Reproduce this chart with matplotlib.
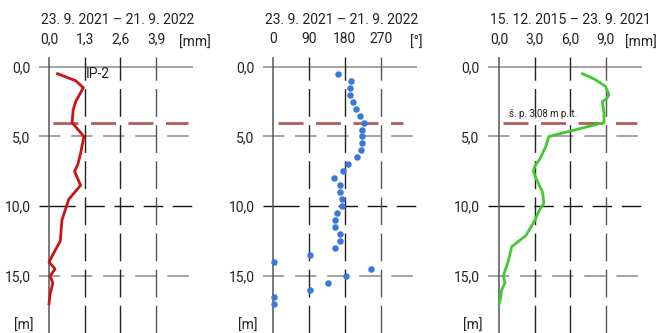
import matplotlib
matplotlib.use("Agg")
import matplotlib.pyplot as plt

plt.rcParams['font.family'] = ['Roboto', 'DejaVu Sans']

# ---------------- data ----------------
depth_ticks = [0.0, 5.0, 10.0, 15.0]
depth_ticklabels = ["0,0", "5,0", "10,0", "15,0"]
water_level = 4.0
water_label = "š. p. 3,08 m p. t."

title1 = "23. 9. 2021 – 21. 9. 2022"
title2 = "23. 9. 2021 – 21. 9. 2022"
title3 = "15. 12. 2015 – 23. 9. 2021"

x1_ticks = [0.0, 1.3, 2.6, 3.9]
x1_labels = ["0,0", "1,3", "2,6", "3,9"]
x2_ticks = [0, 90, 180, 270]
x2_labels = ["0", "90", "180", "270"]
x3_ticks = [0.0, 3.0, 6.0, 9.0]
x3_labels = ["0,0", "3,0", "6,0", "9,0"]

# panel 1: displacement (mm) IP-2
d1 = [0.5, 1.0, 1.5, 2.5, 3.1, 4.0, 5.0, 6.2, 7.0, 7.5, 8.5, 9.5, 11.0, 12.5,
      13.4, 14.0, 14.5, 15.0, 15.5, 16.3, 17.0]
v1 = [0.31, 0.97, 1.25, 0.97, 0.88, 0.84, 1.27, 1.15, 1.05, 0.93, 1.15, 0.72,
      0.47, 0.41, 0.16, 0.0, 0.22, 0.04, 0.14, 0.04, 0.0]

# panel 2: direction (deg)
d2 = [0.5, 1.0, 1.5, 2.0, 2.5, 3.0, 3.5, 4.0, 4.5, 5.0, 5.5, 6.0, 6.5, 7.0,
      7.5, 8.0, 8.5, 9.0, 9.5, 10.0, 10.5, 11.0, 11.5, 12.0, 12.5, 13.0, 13.5,
      14.0, 14.5, 15.0, 15.5, 16.0, 16.5, 17.0]
v2 = [162, 195, 192, 193, 200, 208, 217, 227, 222, 222, 222, 220, 210, 187,
      175, 153, 167, 168, 173, 173, 160, 156, 156, 168, 168, 156, 92,
      2, 245, 182, 137, 92, 2, 2]

# panel 3: displacement (mm) long-term
d3 = [0.5, 0.9, 1.4, 2.0, 2.3, 2.5, 3.3, 4.0, 5.0, 5.7, 6.6, 7.1, 7.5, 8.1,
      9.0, 9.8, 10.3, 11.0, 12.1, 12.9, 13.9, 15.0, 15.5, 16.0, 16.6, 17.0]
v3 = [7.03, 8.07, 8.97, 9.27, 9.05, 8.7, 8.85, 8.85, 4.2, 3.95, 3.45, 3.03,
      2.89, 3.17, 3.67, 3.78, 3.39, 3.03, 2.27, 1.07, 0.79, 0.36, 0.5, 0.22,
      0.14, 0.0]

# ---------------- figure ----------------
W, H = 658, 333
fig = plt.figure(figsize=(W / 100, H / 100), dpi=100)

ax_top_px = 57
ylim = (19.09, -0.70)


def make_axes(left_px, xlim):
    ax = fig.add_axes([left_px / W, 0, 154 / W, (H - ax_top_px) / H])
    ax.set_xlim(*xlim)
    ax.set_ylim(*ylim)
    for s in ax.spines.values():
        s.set_visible(False)
    ax.patch.set_alpha(0)
    return ax


def decorate(ax, xticks, xlabels, unit, unit_x, unit_ha, title, title_x, wl_span):
    # x tick labels on top
    ax.xaxis.tick_top()
    ax.set_xticks(xticks)
    ax.set_xticklabels(xlabels, fontsize=10, color="#222222")
    ax.tick_params(axis="x", length=0, pad=8)
    ax.set_yticks(depth_ticks)
    ax.set_yticklabels(depth_ticklabels, fontsize=10, color="#222222")
    ax.tick_params(axis="y", length=0, pad=6)
    # horizontal grid
    ax.axhline(0.0, color="#8a8a8a", lw=1.1, zorder=1)
    ax.axhline(5.0, color="#8a8a8a", lw=1.1, ls=(0, (14, 7)), zorder=1)
    ax.axhline(10.0, color="#111111", lw=1.0,
               ls=(0, (26, 7, 14, 7, 14, 7, 14, 7, 14, 7, 14, 7)), zorder=1)
    ax.axhline(15.0, color="#8a8a8a", lw=1.1, ls=(0, (14, 7)), zorder=1)
    # vertical grid
    ax.axvline(xticks[0], color="#555555", lw=1.1, zorder=1)
    for i, xt in enumerate(xticks[1:]):
        col = "#222222" if i < 2 else "#555555"
        ax.axvline(xt, color=col, lw=1.0, ls=(0, (20, 6)), zorder=1)
    # water level
    ax.axhline(water_level, xmin=wl_span[0], xmax=wl_span[1], color="#b35c5c",
               lw=2.0, ls=(0, (9, 4.5)), zorder=2)
    # units and title
    ax.text(unit_x, 1.0 + 14 / (H - ax_top_px), unit, transform=ax.transAxes,
            ha=unit_ha, va="center", fontsize=10, color="#222222")
    ax.text(-15 / 154, 18.6, "[m]", transform=ax.get_yaxis_transform(),
            ha="center", va="center", fontsize=10, color="#222222")
    ax.text(title_x, 1.0 + 37 / (H - ax_top_px), title, transform=ax.transAxes,
            ha="center", va="center", fontsize=10, color="#222222")


# panel 1
ax1 = make_axes(39, (-0.364, 5.24))
decorate(ax1, x1_ticks, x1_labels, "[mm]", (195 - 39) / 154, "center", title1,
         (118 - 39) / 154, ((53 - 39) / 154, (188 - 39) / 154))
ax1.plot(v1, d1, color="#cc1414", lw=2.0, zorder=3)
ax1.text(1.35, 0.55, "IP-2", fontsize=10, color="#222222", va="center", ha="left")

# panel 2
ax2 = make_axes(263, (-24.3, 360.75))
decorate(ax2, x2_ticks, x2_labels, "[°]", (416 - 263) / 154, "center", title2,
         (342 - 263) / 154, ((278 - 263) / 154, (403 - 263) / 154))
ax2.scatter(v2, d2, s=22, color="#3a78dc", zorder=3, linewidths=0)

# panel 3
ax3 = make_axes(488, (-0.93, 12.05))
decorate(ax3, x3_ticks, x3_labels, "[mm]", (657 - 488) / 154, "right", title3,
         (570 - 488) / 154, ((503 - 488) / 154, (637 - 488) / 154))
ax3.plot(v3, d3, color="#44c833", lw=2.0, zorder=3)
ax3.text(0.8, 3.4, water_label, fontsize=7, color="#222222", va="center", ha="left")

fig.savefig("out.png", dpi=100)
